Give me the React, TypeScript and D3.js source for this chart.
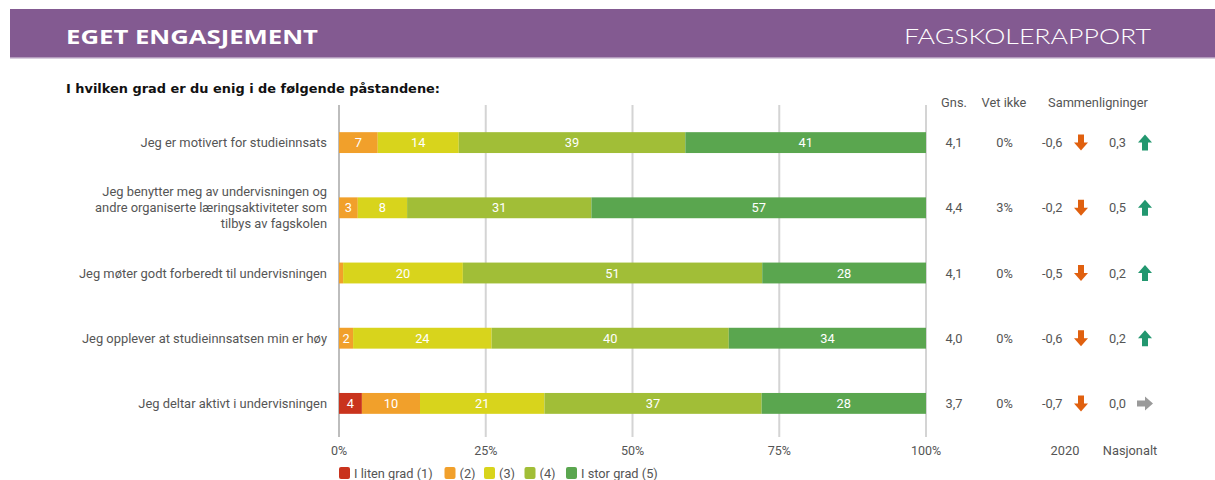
import React from 'react';
import * as d3 from 'd3';

const statements = [
  ['Jeg er motivert for studieinnsats'],
  ['Jeg benytter meg av undervisningen og', 'andre organiserte læringsaktiviteter som', 'tilbys av fagskolen'],
  ['Jeg møter godt forberedt til undervisningen'],
  ['Jeg opplever at studieinnsatsen min er høy'],
  ['Jeg deltar aktivt i undervisningen'],
];
const grades = ['g1', 'g2', 'g3', 'g4', 'g5'];
const gradeLabels = ['I liten grad (1)', '(2)', '(3)', '(4)', 'I stor grad (5)'];
const gradeColors = ['#c9331d', '#f1a02b', '#d8d41c', '#a1be37', '#5aa64f'];

// share of answers per grade (percent), one row per statement
const g1 = [0, 0, 0, 0, 3.9];
const g2 = [6.6, 3.2, 0.7, 2.4, 9.9];
const g3 = [13.8, 8.4, 20.4, 23.6, 21.2];
const g4 = [38.6, 31.4, 51.0, 40.4, 37.0];
const g5 = [41.0, 57.0, 27.9, 33.6, 28.0];

const gns = [4.1, 4.4, 4.1, 4.0, 3.7];
const vetIkke = [0, 3, 0, 0, 0];
const diff2020 = [-0.6, -0.2, -0.5, -0.6, -0.7];
const diffNasjonalt = [0.3, 0.5, 0.2, 0.2, 0.0];
const xTicks = [0, 25, 50, 75, 100];

const W = 1215;
const H = 480;
const font = 'Roboto, "Noto Sans", sans-serif';

const fmt = (v: number) => (v < 0 ? '-' : '') + Math.abs(v).toFixed(1).replace('.', ',');

const Arrow = ({ cx, cy, v }: { cx: number; cy: number; v: number }) => {
  // block arrow pointing down, rotated for up / right
  const d = 'M-3,-8 L3,-8 L3,0 L7,0 L0,8 L-7,0 L-3,0 Z';
  const rot = v < 0 ? 0 : v > 0 ? 180 : -90;
  const fill = v < 0 ? '#e0600f' : v > 0 ? '#22976f' : '#9a9a9a';
  return <path d={d} fill={fill} transform={`translate(${cx},${cy}) rotate(${rot})`} />;
};

const App = () => {
  const rows = statements.map((s, i) => ({
    i, g1: g1[i], g2: g2[i], g3: g3[i], g4: g4[i], g5: g5[i],
  }));
  const series = d3.stack<any>().keys(grades)(rows);

  const x = d3.scaleLinear().domain([0, 100]).range([339, 926]);
  const y = d3.scaleBand<number>()
    .domain(rows.map(r => r.i))
    .range([110, 436])
    .paddingInner(0.68)
    .paddingOuter(0.34);
  const color = d3.scaleOrdinal<string, string>().domain(grades).range(gradeColors);
  const bh = y.bandwidth();
  const cy = (i: number) => (y(i) || 0) + bh / 2;

  return (
    <svg width={W} height={H} style={{ position: 'absolute', left: 0, top: 0, background: '#fff' }}>
      {/* header band */}
      <rect x={10} y={9} width={W - 10} height={48} fill="#835a91" />
      <rect x={10} y={57} width={W - 10} height={1.5} fill="#b39bbd" />
      <text x={66} y={44} fill="#fff" fontFamily='"Open Sans", sans-serif' fontWeight={700}
        fontSize={20} textLength={252} lengthAdjust="spacingAndGlyphs">EGET ENGASJEMENT</text>
      <text x={1151} y={44} fill="#fff" fontFamily='Lato, "Open Sans", sans-serif' fontWeight={300}
        fontSize={22} textAnchor="end" textLength={247} lengthAdjust="spacingAndGlyphs">FAGSKOLERAPPORT</text>

      <text x={66} y={93} fill="#111" fontFamily='"DejaVu Sans", Verdana, sans-serif' fontWeight={700}
        fontSize={12} textLength={374} lengthAdjust="spacingAndGlyphs">I hvilken grad er du enig i de følgende påstandene:</text>

      {/* gridlines */}
      {xTicks.map(t => (
        <g key={t}>
          <line x1={x(t)} x2={x(t)} y1={105} y2={437} stroke={t === 0 ? '#bdbdbd' : '#d4d4d4'} strokeWidth={2} />
          <text x={x(t)} y={455} fill="#555" fontFamily={font} fontSize={12.5} textAnchor="middle">{t}%</text>
        </g>
      ))}

      {/* bars */}
      {series.map((s, k) => (
        <g key={s.key} fill={color(s.key)}>
          {s.map((d, i) => {
            const w = x(d[1]) - x(d[0]);
            const v = d[1] - d[0];
            return (
              <g key={i}>
                {w > 0 && <rect x={x(d[0])} y={y(i)} width={w} height={bh} />}
                {v >= 1.5 && (
                  <text x={(x(d[0]) + x(d[1])) / 2} y={cy(i) + 4.5} fill="#fff" fontFamily={font}
                    fontSize={12.8} textAnchor="middle">{Math.round(v)}</text>
                )}
              </g>
            );
          })}
        </g>
      ))}

      {/* statement labels */}
      {statements.map((lines, i) => (
        <text key={i} x={327} fill="#555" fontFamily={font} fontSize={12.9} textAnchor="end">
          {lines.map((l, j) => (
            <tspan key={j} x={327} y={cy(i) + 4.5 + (j - (lines.length - 1) / 2) * 16}>{l}</tspan>
          ))}
        </text>
      ))}

      {/* right-hand columns */}
      <g fill="#555" fontFamily={font} fontSize={12.8}>
        <text x={954} y={107} textAnchor="middle">Gns.</text>
        <text x={1004} y={107} textAnchor="middle">Vet ikke</text>
        <text x={1098} y={107} textAnchor="middle">Sammenligninger</text>
        <text x={1065} y={455} textAnchor="middle">2020</text>
        <text x={1130} y={455} textAnchor="middle">Nasjonalt</text>
        {rows.map(r => (
          <g key={r.i}>
            <text x={954} y={cy(r.i) + 4.5} textAnchor="middle">{fmt(gns[r.i])}</text>
            <text x={1004.5} y={cy(r.i) + 4.5} textAnchor="middle">{vetIkke[r.i]}%</text>
            <text x={1062.5} y={cy(r.i) + 4.5} textAnchor="end">{fmt(diff2020[r.i])}</text>
            <text x={1126} y={cy(r.i) + 4.5} textAnchor="end">{fmt(diffNasjonalt[r.i])}</text>
          </g>
        ))}
      </g>
      {rows.map(r => (
        <g key={r.i}>
          <Arrow cx={1081} cy={cy(r.i)} v={diff2020[r.i]} />
          <Arrow cx={1145} cy={cy(r.i)} v={diffNasjonalt[r.i]} />
        </g>
      ))}

      {/* legend */}
      {(() => {
        const xs = [339, 444.5, 484, 524.5, 566];
        return gradeLabels.map((l, k) => (
          <g key={l} transform={`translate(${xs[k]},467)`}>
            <rect width={11} height={12} rx={2} fill={gradeColors[k]} />
            <text x={15} y={10.5} fill="#555" fontFamily={font} fontSize={12.8}>{l}</text>
          </g>
        ));
      })()}
    </svg>
  );
};

export default App;
